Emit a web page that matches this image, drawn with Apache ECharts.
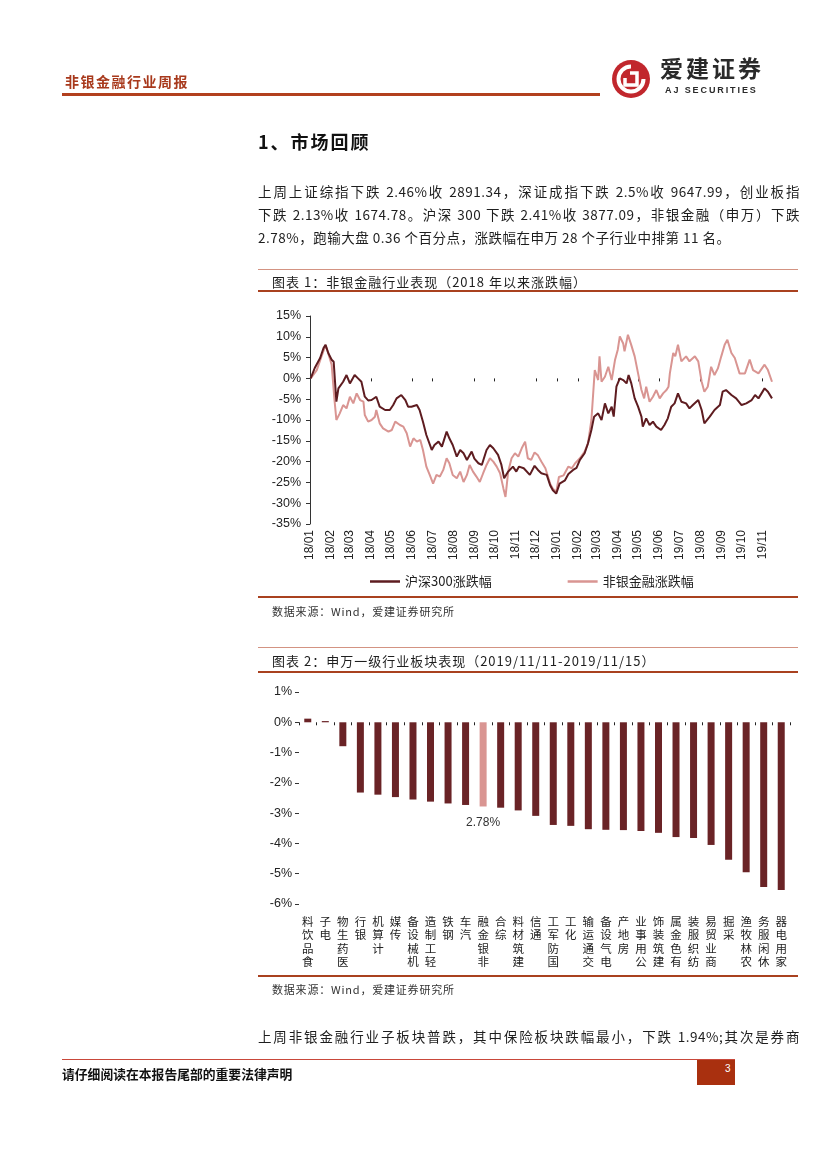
<!DOCTYPE html>
<html>
<head>
<meta charset="utf-8">
<script src="https://cdn.jsdelivr.net/npm/echarts@6/dist/echarts.min.js"></script>
<style>
  html,body{margin:0;padding:0;background:#fff;}
  body{width:827px;height:1169px;position:relative;overflow:hidden;font-family:"Noto Sans CJK SC","Liberation Sans",sans-serif;color:#1e1e1e;}
  #chart{position:absolute;left:0;top:0;width:827px;height:1169px;}
  .t{position:absolute;line-height:1;white-space:nowrap;}
  .p{position:absolute;left:258px;width:542px;font-size:13.5px;line-height:1;letter-spacing:0.5px;text-align:justify;text-align-last:justify;}
  .rule{position:absolute;}
</style>
</head>
<body>
<div id="chart"></div>

<div class="t" style="left:65px;top:74px;font-size:14px;font-weight:700;color:#A8391C;letter-spacing:1.5px;">非银金融行业周报</div>
<div class="rule" style="left:62px;top:93px;width:538px;height:3px;background:#B2401E;"></div>

<svg style="position:absolute;left:610px;top:59px;" width="42" height="40" viewBox="0 0 42 40">
  <circle cx="21" cy="20" r="19" fill="#C1272D"/>
  <path d="M 21 7.5 A 12.5 12.5 0 1 0 33.5 20" stroke="#fff" stroke-width="4" fill="none"/>
  <path d="M 20 14 L 27 14 L 27 26 L 15 26 L 15 19" stroke="#fff" stroke-width="3.5" fill="none"/>
</svg>
<div class="t" style="left:660px;top:56px;font-size:23px;font-weight:700;color:#2a2a2a;letter-spacing:3px;">爱建证券</div>
<div class="t" style="left:665px;top:86px;font-size:9px;font-weight:700;color:#2a2a2a;letter-spacing:1.9px;font-family:'Liberation Sans',sans-serif;">AJ SECURITIES</div>

<div class="t" style="left:258px;top:132px;font-size:18px;font-weight:700;color:#111;letter-spacing:2px;">1、市场回顾</div>

<div class="p" style="top:185px;">上周上证综指下跌 2.46%收 2891.34，深证成指下跌 2.5%收 9647.99，创业板指</div>
<div class="p" style="top:208px;">下跌 2.13%收 1674.78。沪深 300 下跌 2.41%收 3877.09，非银金融（申万）下跌</div>
<div class="p" style="top:231px;text-align:left;text-align-last:left;">2.78%，跑输大盘 0.36 个百分点，涨跌幅在申万 28 个子行业中排第 11 名。</div>

<div class="rule" style="left:258px;top:269px;width:540px;height:1px;background:#D39382;"></div>
<div class="t" style="left:272px;top:275px;font-size:13px;letter-spacing:1px;">图表 1：非银金融行业表现（2018 年以来涨跌幅）</div>
<div class="rule" style="left:258px;top:290px;width:540px;height:2px;background:#A9411F;"></div>

<div class="rule" style="left:258px;top:596px;width:540px;height:2px;background:#A9411F;"></div>
<div class="t" style="left:272px;top:606px;font-size:11px;letter-spacing:0.8px;color:#333;">数据来源：Wind，爱建证券研究所</div>

<div class="rule" style="left:258px;top:647px;width:540px;height:1px;background:#D39382;"></div>
<div class="t" style="left:272px;top:654px;font-size:13px;letter-spacing:1px;">图表 2：申万一级行业板块表现（2019/11/11-2019/11/15）</div>
<div class="rule" style="left:258px;top:671px;width:540px;height:2px;background:#A9411F;"></div>

<div class="rule" style="left:258px;top:975px;width:540px;height:2px;background:#A9411F;"></div>
<div class="t" style="left:272px;top:984px;font-size:11px;letter-spacing:0.8px;color:#333;">数据来源：Wind，爱建证券研究所</div>

<div class="p" style="top:1030px;">上周非银金融行业子板块普跌，其中保险板块跌幅最小，下跌 1.94%;其次是券商</div>

<div class="rule" style="left:62px;top:1059px;width:673px;height:1px;background:#C9483A;"></div>
<div class="t" style="left:62px;top:1068px;font-size:12.8px;font-weight:700;color:#111;">请仔细阅读在本报告尾部的重要法律声明</div>
<div class="rule" style="left:697px;top:1060px;width:38px;height:25px;background:#A9300F;"></div>
<div class="t" style="left:725px;top:1064px;font-size:10px;color:#fff;font-family:'Liberation Sans',sans-serif;">3</div>

<script>
// ---------- Chart 1 data: cumulative change since 2018 (%) ----------
const axisStart = '2018-01-01', axisEnd = '2019-11-15';
const monthLabels = ['2018-01-01','2018-02-01','2018-03-01','2018-04-01','2018-05-01','2018-06-01','2018-07-01','2018-08-01','2018-09-01','2018-10-01','2018-11-01','2018-12-01','2019-01-01','2019-02-01','2019-03-01','2019-04-01','2019-05-01','2019-06-01','2019-07-01','2019-08-01','2019-09-01','2019-10-01','2019-11-01'];
const zeroLineTicks = ['2018-04-01','2018-06-01','2018-07-01','2018-09-01','2018-10-01','2018-12-01','2019-01-01','2019-02-01','2019-04-01','2019-05-01','2019-06-01','2019-08-01','2019-11-01'];
const seriesNames = ['沪深300涨跌幅','非银金融涨跌幅'];

const hs300 = [
['2018-01-02',0.0],['2018-01-08',2.5],['2018-01-16',4.9],['2018-01-21',7.3],['2018-01-24',8.1],['2018-01-28',6.1],['2018-02-02',4.5],['2018-02-05',4.0],['2018-02-09',-5.6],['2018-02-12',-2.4],['2018-02-19',-0.8],['2018-02-24',0.8],['2018-03-01',-1.2],['2018-03-08',0.8],['2018-03-13',0.0],['2018-03-18',-0.8],['2018-03-23',-4.4],['2018-03-28',-5.3],['2018-04-02',-5.2],['2018-04-09',-4.4],['2018-04-14',-6.8],['2018-04-22',-7.6],['2018-04-29',-7.6],['2018-05-04',-6.4],['2018-05-09',-4.8],['2018-05-16',-4.0],['2018-05-22',-5.2],['2018-05-26',-6.8],['2018-05-31',-6.8],['2018-06-08',-6.4],['2018-06-12',-7.6],['2018-06-17',-10.4],['2018-06-22',-13.6],['2018-06-30',-17.2],['2018-07-04',-16.0],['2018-07-10',-15.2],['2018-07-15',-16.4],['2018-07-22',-12.8],['2018-07-26',-14.4],['2018-07-31',-16.0],['2018-08-06',-18.8],['2018-08-11',-17.2],['2018-08-16',-18.0],['2018-08-21',-19.6],['2018-08-28',-17.6],['2018-09-01',-19.3],['2018-09-07',-20.4],['2018-09-12',-20.8],['2018-09-19',-17.2],['2018-09-24',-16.0],['2018-09-29',-16.8],['2018-10-06',-18.4],['2018-10-11',-20.8],['2018-10-15',-24.0],['2018-10-21',-22.4],['2018-10-28',-21.2],['2018-11-02',-22.4],['2018-11-06',-21.2],['2018-11-13',-21.6],['2018-11-22',-23.2],['2018-11-29',-21.0],['2018-12-04',-22.0],['2018-12-09',-22.8],['2018-12-17',-23.2],['2018-12-22',-25.7],['2018-12-26',-26.9],['2018-12-31',-27.7],['2019-01-05',-25.3],['2019-01-13',-24.5],['2019-01-18',-23.0],['2019-01-25',-22.0],['2019-01-30',-21.5],['2019-02-04',-19.6],['2019-02-11',-18.0],['2019-02-16',-15.6],['2019-02-21',-12.4],['2019-02-25',-9.2],['2019-03-03',-8.4],['2019-03-08',-10.0],['2019-03-13',-6.0],['2019-03-18',-8.4],['2019-03-23',-6.8],['2019-03-26',-9.2],['2019-03-30',-2.0],['2019-04-04',0.0],['2019-04-09',-0.4],['2019-04-14',-1.2],['2019-04-17',0.8],['2019-04-21',-1.2],['2019-04-26',-4.8],['2019-05-01',-6.8],['2019-05-06',-9.2],['2019-05-08',-11.6],['2019-05-13',-9.6],['2019-05-18',-11.2],['2019-05-23',-10.4],['2019-05-28',-11.6],['2019-06-04',-12.4],['2019-06-09',-11.2],['2019-06-14',-9.6],['2019-06-19',-6.8],['2019-06-24',-6.0],['2019-06-29',-3.6],['2019-07-04',-5.6],['2019-07-11',-6.0],['2019-07-16',-7.2],['2019-07-21',-6.4],['2019-07-29',-5.2],['2019-08-03',-7.6],['2019-08-07',-10.8],['2019-08-15',-9.2],['2019-08-22',-7.6],['2019-08-30',-6.4],['2019-09-03',-3.2],['2019-09-08',-2.8],['2019-09-16',-4.0],['2019-09-23',-4.8],['2019-10-01',-6.4],['2019-10-08',-6.0],['2019-10-16',-5.2],['2019-10-21',-4.0],['2019-10-26',-4.8],['2019-11-04',-2.4],['2019-11-09',-3.2],['2019-11-15',-4.8]
];

const nonBank = [
['2018-01-02',0.0],['2018-01-04',-0.4],['2018-01-11',2.0],['2018-01-18',5.3],['2018-01-24',8.0],['2018-01-28',6.0],['2018-02-02',3.3],['2018-02-06',-4.8],['2018-02-09',-10.0],['2018-02-14',-8.4],['2018-02-19',-6.4],['2018-02-24',-7.2],['2018-03-01',-4.4],['2018-03-06',-6.0],['2018-03-11',-3.6],['2018-03-16',-5.2],['2018-03-21',-5.6],['2018-03-23',-8.8],['2018-03-28',-10.4],['2018-04-02',-10.0],['2018-04-07',-9.2],['2018-04-09',-7.6],['2018-04-14',-10.8],['2018-04-19',-12.0],['2018-04-27',-12.8],['2018-05-02',-12.4],['2018-05-07',-10.4],['2018-05-14',-11.2],['2018-05-19',-11.6],['2018-05-24',-13.2],['2018-05-29',-16.4],['2018-06-03',-14.4],['2018-06-08',-15.2],['2018-06-13',-14.8],['2018-06-17',-17.2],['2018-06-22',-21.2],['2018-06-27',-23.2],['2018-07-02',-25.3],['2018-07-07',-23.2],['2018-07-12',-23.6],['2018-07-17',-22.0],['2018-07-22',-19.2],['2018-07-26',-20.4],['2018-07-31',-23.2],['2018-08-06',-24.0],['2018-08-11',-22.4],['2018-08-16',-24.9],['2018-08-21',-23.2],['2018-08-25',-20.8],['2018-08-30',-22.4],['2018-09-04',-23.6],['2018-09-09',-24.9],['2018-09-14',-22.8],['2018-09-19',-20.8],['2018-09-24',-19.2],['2018-09-29',-20.0],['2018-10-04',-21.2],['2018-10-09',-22.8],['2018-10-14',-26.5],['2018-10-17',-28.5],['2018-10-21',-22.4],['2018-10-26',-19.2],['2018-10-31',-18.0],['2018-11-05',-18.8],['2018-11-10',-16.8],['2018-11-15',-15.2],['2018-11-19',-19.2],['2018-11-24',-19.6],['2018-11-29',-17.8],['2018-12-04',-18.5],['2018-12-09',-20.0],['2018-12-15',-21.6],['2018-12-22',-25.3],['2018-12-26',-26.5],['2018-12-31',-27.3],['2019-01-04',-23.7],['2019-01-11',-23.3],['2019-01-18',-21.2],['2019-01-23',-21.6],['2019-01-28',-20.4],['2019-02-04',-19.2],['2019-02-11',-17.6],['2019-02-16',-15.6],['2019-02-21',-10.0],['2019-02-24',-2.8],['2019-02-26',2.0],['2019-03-03',-0.4],['2019-03-05',5.3],['2019-03-08',-0.8],['2019-03-13',0.4],['2019-03-18',2.8],['2019-03-23',-0.4],['2019-03-28',4.5],['2019-04-01',6.9],['2019-04-04',10.1],['2019-04-09',8.4],['2019-04-11',6.5],['2019-04-16',10.5],['2019-04-21',8.0],['2019-04-26',5.3],['2019-05-01',1.2],['2019-05-06',-2.8],['2019-05-10',-4.8],['2019-05-13',-2.0],['2019-05-18',-5.6],['2019-05-23',-4.4],['2019-05-28',-2.8],['2019-06-02',-4.8],['2019-06-07',-3.6],['2019-06-12',-2.8],['2019-06-15',-2.0],['2019-06-17',1.2],['2019-06-22',6.1],['2019-06-25',5.3],['2019-06-29',8.1],['2019-07-04',4.1],['2019-07-11',5.3],['2019-07-16',4.1],['2019-07-24',5.3],['2019-07-29',4.1],['2019-08-03',-0.8],['2019-08-07',-3.2],['2019-08-12',-2.0],['2019-08-17',2.8],['2019-08-22',0.8],['2019-08-27',2.4],['2019-09-01',5.3],['2019-09-06',8.1],['2019-09-10',9.3],['2019-09-16',6.1],['2019-09-21',4.9],['2019-09-28',1.2],['2019-10-06',1.2],['2019-10-13',4.5],['2019-10-18',2.0],['2019-10-26',1.2],['2019-11-04',3.3],['2019-11-09',2.0],['2019-11-15',-0.8]
];

// ---------- Chart 2 data: weekly change by SW level-1 industry (%) ----------
const industries = ['食品饮料','电子','医药生物','银行','计算机','传媒','机械设备','轻工制造','钢铁','汽车','非银金融','综合','建筑材料','通信','国防军工','化工','交通运输','电气设备','房地产','公用事业','建筑装饰','有色金属','纺织服装','商业贸易','采掘','农林牧渔','休闲服务','家用电器'];
const weeklyChange = [0.12,0.04,-0.79,-2.32,-2.39,-2.47,-2.55,-2.62,-2.68,-2.73,-2.78,-2.82,-2.91,-3.09,-3.39,-3.42,-3.53,-3.55,-3.56,-3.59,-3.65,-3.79,-3.82,-4.05,-4.54,-4.95,-5.44,-5.54];
const highlightIndustry = '非银金融';

const C_DARK = '#5E1C20', C_PINK = '#D99592', C_BAR = '#6A2326';
const numFont = 'Liberation Sans';
const cjkFont = 'Noto Sans CJK SC';

const ts = s => new Date(s + 'T00:00:00').getTime();
const toPoints = arr => arr.map(([d, v]) => [ts(d), v]);
function ym(v){ const d = new Date(v); return String(d.getFullYear()).slice(2) + '/' + String(d.getMonth()+1).padStart(2,'0'); }

const chart = echarts.init(document.getElementById('chart'), null, {renderer:'canvas'});
chart.setOption({
  animation:false,
  backgroundColor:'transparent',
  legend:{
    left:365, top:570, icon:'rect', itemWidth:30, itemHeight:2.5, itemGap:76,
    data:seriesNames,
    textStyle:{fontFamily:cjkFont, fontSize:13, color:'#222'}
  },
  grid:[
    {left:310, right:55, top:316, bottom:645},
    {left:299, right:37, top:692, bottom:265}
  ],
  xAxis:[
    {gridIndex:0, type:'value', position:'bottom', min:ts(axisStart), max:ts(axisEnd), scale:true,
     axisLine:{show:false, onZero:false}, axisTick:{show:false}, splitLine:{show:false},
     axisLabel:{customValues:monthLabels.map(ts), rotate:90, formatter:ym, fontFamily:numFont, fontSize:12, color:'#222', margin:6, showMinLabel:true, showMaxLabel:true}},
    {gridIndex:0, type:'value', position:'bottom', min:ts(axisStart), max:ts(axisEnd), scale:true,
     axisLine:{show:false, onZero:true}, splitLine:{show:false}, axisLabel:{show:false},
     axisTick:{show:true, customValues:zeroLineTicks.map(ts), length:3, lineStyle:{color:'#222', width:1}}},
    {gridIndex:1, type:'category', position:'bottom', data:industries,
     axisLine:{show:false, onZero:false}, axisTick:{show:false}, splitLine:{show:false},
     axisLabel:{interval:0, margin:11, fontFamily:cjkFont, fontSize:11.5, lineHeight:13.3, color:'#222', verticalAlign:'top',
       formatter:v => v.split('').reverse().join('\n')}},
    {gridIndex:1, type:'category', position:'bottom', data:industries,
     axisLine:{show:false, onZero:true}, axisLabel:{show:false}, splitLine:{show:false},
     axisTick:{show:true, interval:0, length:3, lineStyle:{color:'#222', width:1}}}
  ],
  yAxis:[
    {gridIndex:0, type:'value', min:-35, max:15, interval:5,
     axisLine:{show:true, lineStyle:{color:'#333', width:1}},
     axisTick:{show:true, length:4, lineStyle:{color:'#333'}}, splitLine:{show:false},
     axisLabel:{formatter:'{value}%', fontFamily:numFont, fontSize:12.5, color:'#222', margin:9}},
    {gridIndex:1, type:'value', min:-6, max:1, interval:1,
     axisLine:{show:false}, axisTick:{show:true, length:4, lineStyle:{color:'#333'}}, splitLine:{show:false},
     axisLabel:{formatter:'{value}%', fontFamily:numFont, fontSize:12.5, color:'#222', margin:7}}
  ],
  series:[
    {name:seriesNames[0], type:'line', xAxisIndex:0, yAxisIndex:0, data:toPoints(hs300), showSymbol:false, z:4,
     lineStyle:{color:C_DARK, width:2}, itemStyle:{color:C_DARK}},
    {name:seriesNames[1], type:'line', xAxisIndex:0, yAxisIndex:0, data:toPoints(nonBank), showSymbol:false, z:3,
     lineStyle:{color:C_PINK, width:2}, itemStyle:{color:C_PINK}},
    {name:'周涨跌幅', type:'bar', xAxisIndex:2, yAxisIndex:1, barWidth:7,
     data:industries.map((name,i) => name === highlightIndustry
       ? {value:weeklyChange[i], itemStyle:{color:C_PINK},
          label:{show:true, position:'bottom', distance:10, formatter:p => Math.abs(p.value).toFixed(2) + '%',
                 fontFamily:numFont, fontSize:12, color:'#333'}}
       : {value:weeklyChange[i]}),
     itemStyle:{color:C_BAR}}
  ]
});
</script>
</body>
</html>
